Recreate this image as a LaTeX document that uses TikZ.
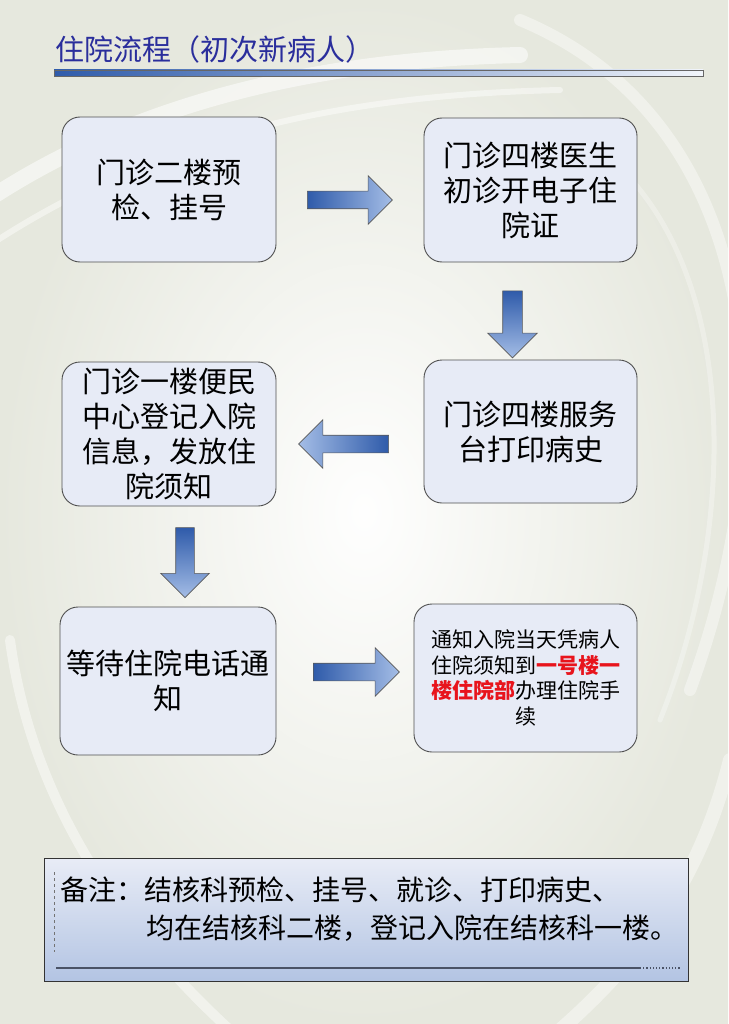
\documentclass[tikz,border=0pt]{standalone}
\usepackage{fontspec}
\setmainfont{Noto Sans CJK SC}
\usetikzlibrary{shapes.arrows,calc}
\definecolor{bgc}{HTML}{E6E8DE}
\definecolor{boxfill}{HTML}{E7EBF6}
\definecolor{boxline}{HTML}{505050}
\definecolor{adark}{HTML}{2F5BAA}
\definecolor{alight}{HTML}{A4BDE6}
\definecolor{titleblue}{HTML}{2A2E9C}
\definecolor{notetop}{HTML}{E8ECF6}
\definecolor{notebot}{HTML}{B3C4E3}
\definecolor{redtxt}{HTML}{E8141C}
\definecolor{noteline}{HTML}{4A5366}
\tikzset{
  stepbox/.style={draw=boxline, line width=0.9pt, fill=boxfill, rounded corners=18pt,
    align=center, inner sep=4pt, font=\fontsize{29pt}{35pt}\selectfont},
  barrow/.style={single arrow, draw=black!65, line width=0.6pt, inner xsep=0pt,
    inner ysep=8.5pt, single arrow head extend=15.5pt, minimum width=0pt},
  darrow/.style={single arrow, draw=black!65, line width=0.6pt, inner ysep=0pt,
    inner xsep=9.5pt, single arrow head extend=15pt, minimum width=0pt,
    shape border rotate=270, top color=adark, bottom color=alight},
  swirl/.style={white, line cap=round}
}
\begin{document}
\begin{tikzpicture}[x=1pt,y=-1pt]
\useasboundingbox (0,0) rectangle (728,1024);
% background
\shade[inner color=white!97!bgc, outer color=bgc] (0,0) rectangle (728,1024);
\draw[swirl, opacity=0.55, line width=16pt] (-20,205) .. controls (120,110) and (300,60) .. (520,55);
\draw[swirl, opacity=0.45, line width=6pt] (-10,245) .. controls (150,140) and (330,95) .. (560,90);
\draw[swirl, opacity=0.4, line width=12pt] (520,20) .. controls (760,120) and (790,420) .. (690,690);
\draw[swirl, opacity=0.3, line width=5pt] (600,150) .. controls (740,260) and (740,520) .. (660,720);
\draw[swirl, opacity=0.45, line width=10pt] (10,640) .. controls (30,790) and (110,920) .. (230,1030);
\draw[swirl, opacity=0.4, line width=14pt] (730,760) .. controls (700,880) and (640,960) .. (560,1030);
% title
\node[anchor=west, text=titleblue, font=\fontsize{29pt}{32pt}\selectfont, inner sep=0pt] (title) at (55,49) {住院流程（初次新病人）};
\shade[left color=adark, right color=white!85!alight] (54,70) rectangle (703,76);
\draw[black!60, line width=0.5pt] (54,70) rectangle (703,76);
% boxes
\node[stepbox, minimum width=214pt, minimum height=145pt] (b1) at (169,189.5) {门诊二楼预\\检、挂号};
\node[stepbox, minimum width=213pt, minimum height=144pt] (b2) at (530.5,190) {门诊四楼医生\\初诊开电子住\\院证};
\node[stepbox, minimum width=213pt, minimum height=143pt] (b3) at (530.5,431.5) {门诊四楼服务\\台打印病史};
\node[stepbox, minimum width=214pt, minimum height=144pt] (b4) at (169,434) {门诊一楼便民\\中心登记入院\\信息，发放住\\院须知};
\node[stepbox, minimum width=216pt, minimum height=148pt] (b5) at (168,681) {等待住院电话通\\知};
\node[stepbox, minimum width=223pt, minimum height=148pt, font=\fontsize{21pt}{25.5pt}\selectfont] (b6) at (525.5,678)
  {通知入院当天凭病人\\住院须知到\textcolor{redtxt}{\bfseries 一号楼一}\\\textcolor{redtxt}{\bfseries 楼住院部}办理住院手\\续};
% block arrows
\node[barrow, minimum height=85pt, left color=adark, right color=alight] (a1) at (345.5,200) {};
\node[darrow, minimum height=67pt] (a2) at (512.5,319.5) {};
\node[barrow, minimum height=90pt, shape border rotate=180, left color=alight, right color=adark] (a3) at (348,444) {};
\node[darrow, minimum height=70pt, inner xsep=9pt] (a4) at (185,558) {};
\node[barrow, minimum height=86pt, left color=adark, right color=alight] (a5) at (352,672) {};
% note
\node[draw=black!80, line width=0.8pt, top color=notetop, bottom color=notebot, minimum width=644pt, minimum height=123pt, inner sep=0pt] (note) at (366,919.5) {};
\draw[black!55, dashed, line width=0.8pt] (54,872) -- (54,952);
\draw[noteline, line width=1.6pt] (56,968) -- (640,968);
\draw[noteline, line width=1.2pt, dotted] (640,968) -- (680,968);
\node[anchor=west, inner sep=0pt, font=\fontsize{28pt}{38pt}\selectfont] (l1) at (60,890) {备注：结核科预检、挂号、就诊、打印病史、};
\node[anchor=west, inner sep=0pt, font=\fontsize{28pt}{38pt}\selectfont] (l2) at (146,928) {均在结核科二楼，登记入院在结核科一楼。};
\end{tikzpicture}
\end{document}
